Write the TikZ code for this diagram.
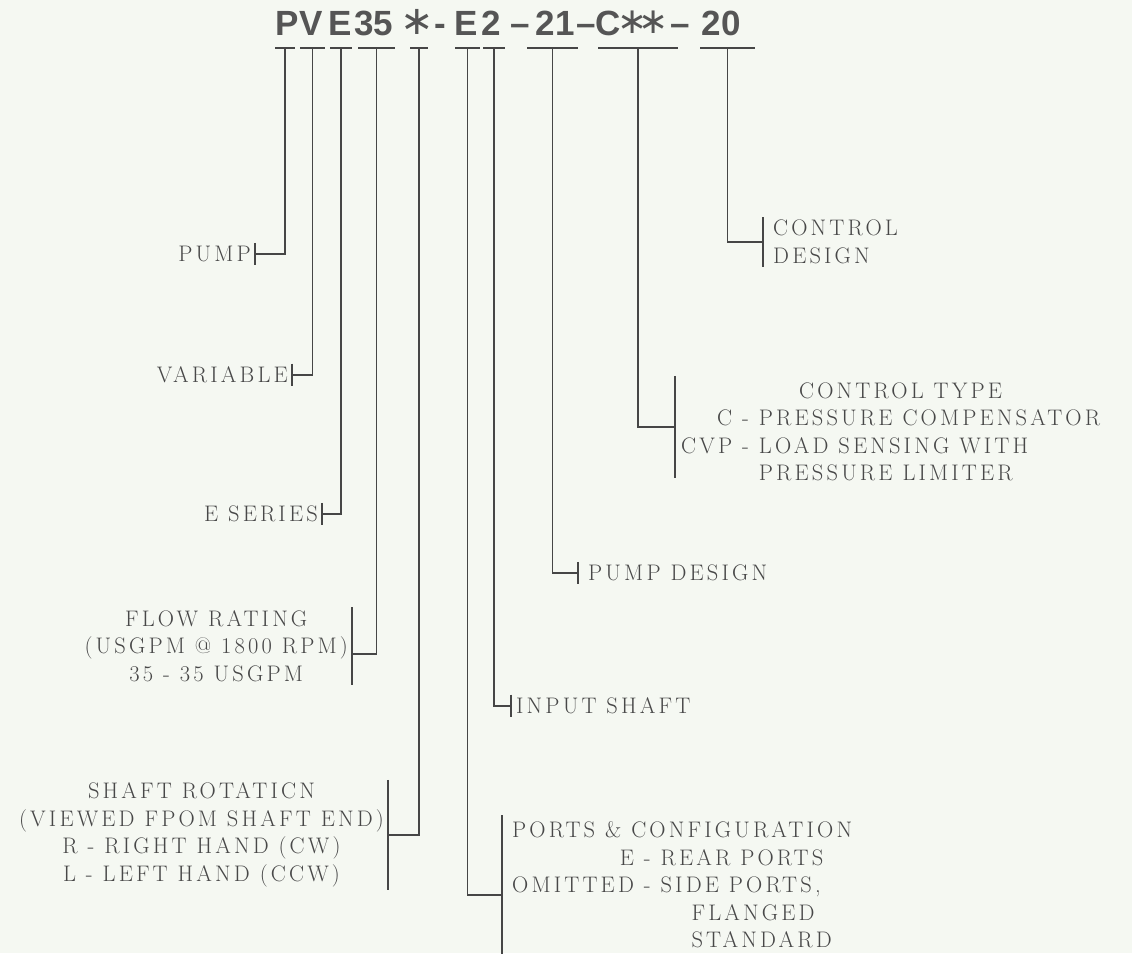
\documentclass[tikz,border=0pt]{standalone}
\usepackage{fontspec}
\newfontfamily\codefont{Liberation Sans}
\newfontfamily\starfont{DejaVu Sans}
\newfontfamily\typefont{Latin Modern Roman}[LetterSpace=14]
\definecolor{paper}{RGB}{245,248,242}
\definecolor{ink}{RGB}{70,70,70}
\definecolor{typeink}{RGB}{72,72,72}
\definecolor{codeink}{RGB}{85,85,85}
\tikzset{
    wire/.style={draw=ink, line width=1.2pt}, % leader lines
    lbl/.style={ % typed labels
        font=\typefont\fontsize{22.5}{27.5}\selectfont,
        text=typeink,
        inner xsep=4pt, inner ysep=3pt
    },
    rlbl/.style={lbl, inner xsep=10pt},
    code/.style={font=\codefont\bfseries\fontsize{35}{35}\selectfont, text=codeink, inner sep=0pt, anchor=base},
    star/.style={code, font=\starfont\fontsize{40}{40}\selectfont, anchor=center},
    smallstar/.style={star, font=\starfont\fontsize{36}{36}\selectfont}
}
\begin{document}
\begin{tikzpicture}[x=1pt,y=-1pt]
    \fill[paper] (0,0) rectangle (1132,953);
    \useasboundingbox (0,0) rectangle (1132,953);
    %
    % model code
    \node[code] (cP) at (287.5,35) {P};
    \node[code] (cV) at (311,35) {V};
    \node[code] (cE) at (340,35) {E};
    \node[code] (cSize) at (374,35) {35};
    \node[star] (cRot) at (417,22) {∗};
    \node[code] (cDashA) at (440,35) {-};
    \node[code] (cPorts) at (466,35) {E};
    \node[code] (cShaft) at (491.5,35) {2};
    \node[code] (cDashB) at (520,35) {–};
    \node[code] (cDesign) at (555,35) {21};
    \node[code] (cDashC) at (586,35) {–};
    \node[code] (cC) at (608,35) {C};
    \node[smallstar] (cStarA) at (633,22) {∗};
    \node[smallstar] (cStarB) at (654,22) {∗};
    \node[code] (cDashD) at (680,35) {–};
    \node[code] (cCtrl) at (721,35) {20};
    %
    % bars under the code
    \foreach \n/\l/\r in {bP/275/295, bV/300/325, bE/330/352, bSize/358/395, bRot/410/428,
                          bPorts/455/480, bShaft/483/505, bDesign/527/578, bType/598/678, bCtrl/700/755}{
        \draw[wire] (\l,48) -- (\r,48);
        \coordinate (\n) at ({(\l+\r)/2},48);
    }
    %
    % left hand labels
    \node[lbl,anchor=east] (pump) at (255,254) {PUMP};
    \node[lbl,anchor=east] (variable) at (292,375) {VARIABLE};
    \node[lbl,anchor=east] (series) at (322,514) {E SERIES};
    \node[lbl,anchor=east,align=center] (flow) at (352,646)
        {FLOW RATING\\(USGPM @ 1800 RPM)\\35 - 35 USGPM};
    \node[lbl,anchor=east,align=center] (rotation) at (388,835)
        {SHAFT ROTATICN\\(VIEWED FPOM SHAFT END)\\R - RIGHT HAND (CW)\\L - LEFT HAND (CCW)};
    %
    % right hand labels
    \node[rlbl,anchor=west,align=left] (ctrl) at (763,242) {CONTROL\\DESIGN};
    \node[rlbl,anchor=west,inner xsep=6pt] (ctype) at (675,434) {%
        \begin{tabular}{@{}r@{\ }l@{}}
            \multicolumn{2}{c}{\hspace{20pt}CONTROL TYPE}\\
            C & - PRESSURE COMPENSATOR\\
            CVP & - LOAD SENSING WITH\\
                & \phantom{- }PRESSURE LIMITER
        \end{tabular}};
    \node[rlbl,anchor=west] (design) at (578,573) {PUMP DESIGN};
    \node[rlbl,anchor=west,inner xsep=5pt] (shaft) at (511,706) {INPUT SHAFT};
    \node[rlbl,anchor=west] (ports) at (502,887) {%
        \begin{tabular}{@{}r@{\ }l@{}}
            \multicolumn{2}{@{}l@{}}{PORTS \& CONFIGURATION}\\
            E & - REAR PORTS\\
            OMITTED & - SIDE PORTS,\\
                    & \hspace{31pt}\phantom{- }FLANGED\\
                    & \hspace{31pt}\phantom{- }STANDARD
        \end{tabular}};
    %
    % leaders
    \draw[wire] (bP) |- (pump.east);
    \draw[wire] (bV) |- (variable.east);
    \draw[wire] (bE) |- (series.east);
    \draw[wire] (bSize) |- ([yshift=-8pt]flow.east);
    \draw[wire] (bRot) |- (rotation.east);
    \draw[wire] (bPorts) |- ([yshift=-8pt]ports.west);
    \draw[wire] (bShaft) |- (shaft.west);
    \draw[wire] (bDesign) |- (design.west);
    \draw[wire] (bType) |- ([yshift=7pt]ctype.west);
    \draw[wire] (bCtrl) |- (ctrl.west);
    %
    % ticks beside the labels
    \foreach \t in {pump,variable,series,flow,rotation}
        \draw[wire] (\t.north east) -- (\t.south east);
    \foreach \t in {ctrl,design,shaft,ports}
        \draw[wire] (\t.north west) -- (\t.south west);
    \draw[wire] (ctype.north west) -- ([yshift=14pt]ctype.south west);
\end{tikzpicture}
\end{document}
